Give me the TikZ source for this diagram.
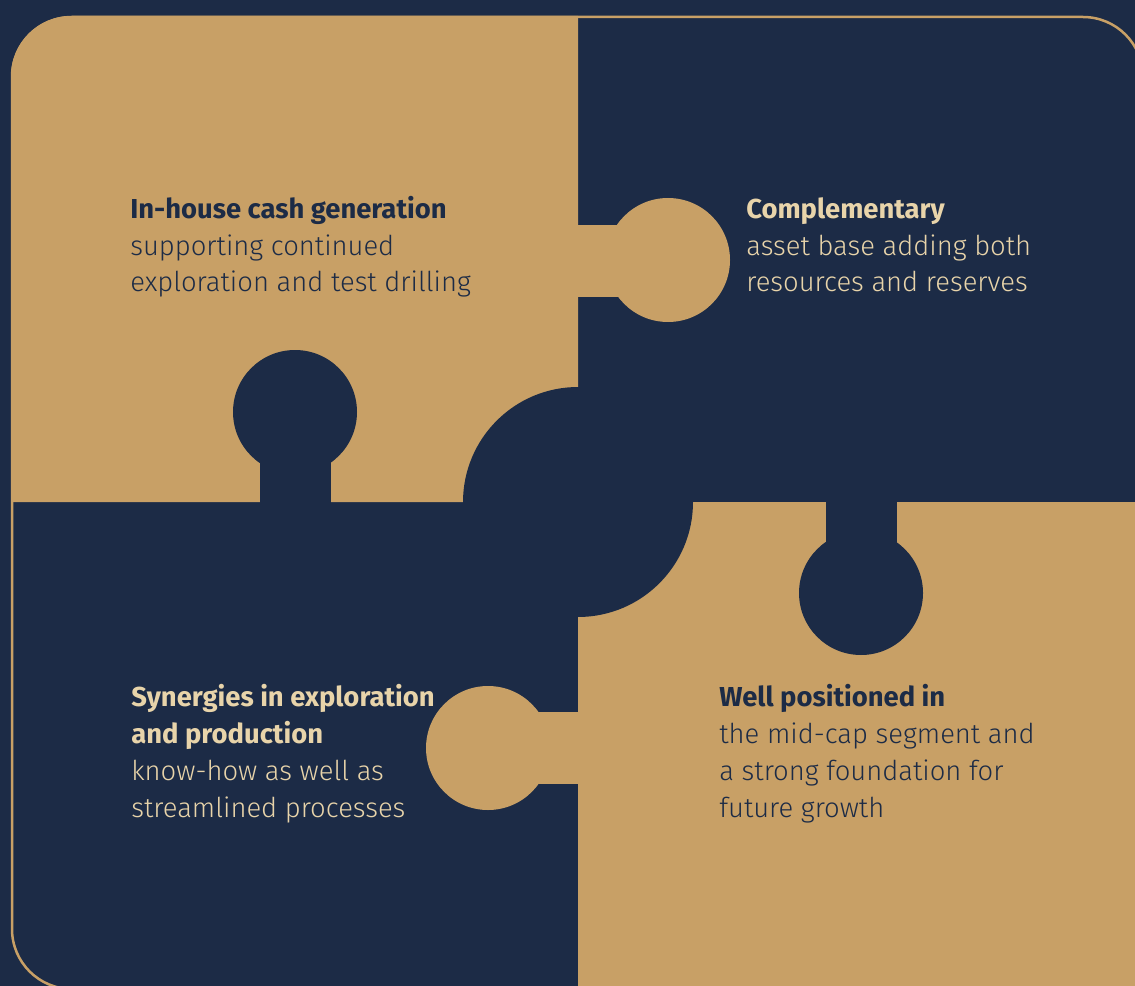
\documentclass[tikz,border=0pt]{standalone}
\usepackage{fontspec}
\setmainfont{Fira Sans Light}[BoldFont=Fira Sans Bold]

\definecolor{navy}{HTML}{1C2B46}
\definecolor{sand}{HTML}{C8A066}
\definecolor{cream}{HTML}{E8D4AA}
\newcommand{\knob}{62}

\begin{document}
\begin{tikzpicture}[x=0.02cm, y=-0.02cm,
    blurb/.style={anchor=base west, align=left, inner sep=0pt,
      font=\fontsize{15.6}{21}\selectfont}]
      \useasboundingbox (0, 0) rectangle (1135, 986);
      \fill[navy] (0, 0) rectangle (1135, 986);

      \fill[sand] (11, 502) -- (11, 76) arc (180:270:60) -- (578, 16) -- (578, 502) -- cycle;
      \fill[sand] (578, 502) rectangle (1160, 1000);

      \fill[navy] (578, 502) circle[radius=115];

      \fill[navy] (260, 440) rectangle (331, 505);
      \fill[navy] (295, 412) circle[radius=\knob];
      \fill[navy] (826, 495) rectangle (897, 560);
      \fill[navy] (861, 593) circle[radius=\knob];

      \fill[sand] (570, 225) rectangle (640, 297);
      \fill[sand] (668, 260) circle[radius=\knob];
      \fill[sand] (515, 712) rectangle (586, 784);
      \fill[sand] (488, 748) circle[radius=\knob];

      \draw[sand, line width=0.05cm, rounded corners=1.2cm] (12, 17) rectangle (1143, 989);

      \node[blurb, text=navy] (cash) at (130, 292)
        {\textbf{In-house cash generation}\\supporting continued\\exploration and test drilling};
      \node[blurb, text=cream] (assets) at (746, 292)
        {\textbf{Complementary}\\asset base adding both\\resources and reserves};
      \node[blurb, text=cream] (synergy) at (131, 817)
        {\textbf{Synergies in exploration}\\\textbf{and production}\\know-how as well as\\streamlined processes};
      \node[blurb, text=navy] (midcap) at (719, 817)
        {\textbf{Well positioned in}\\the mid-cap segment and\\a strong foundation for\\future growth};

    \end{tikzpicture}
\end{document}
